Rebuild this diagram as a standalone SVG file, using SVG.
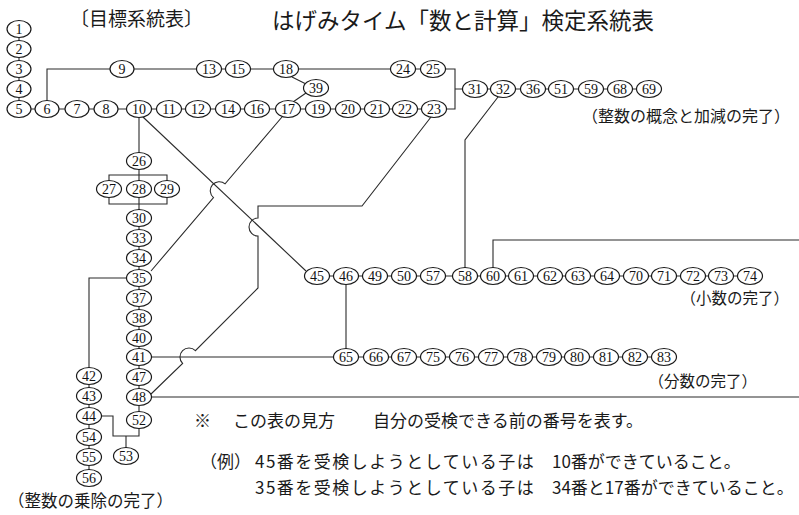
<svg xmlns="http://www.w3.org/2000/svg" width="799" height="515" viewBox="0 0 799 515">
<style>
.n ellipse{fill:#fff;stroke:#1a1a1a;stroke-width:1.2}
.n text{font-family:"Liberation Serif",serif;font-size:14px;text-anchor:middle;fill:#111}
.c{fill:none;stroke:#2a2a2a;stroke-width:1.1}
.t{font-family:"Noto Sans CJK JP",sans-serif;fill:#1a1a1a}
</style>
<rect width="799" height="515" fill="#fff"/>
<text class="t" x="70" y="26" font-size="19">〔目標系統表〕</text>
<text class="t" x="272" y="29" font-size="22.5">はげみタイム「数と計算」検定系統表</text>
<g id="connectors" class="c">
<path d="M19,29V109H434"/>
<path d="M434,109H455V69H47V109"/>
<path d="M455,89H649"/>
<path d="M292,77L306,84M306,93L293,102"/>
<path d="M139,109V420"/>
<path d="M109,189V175H167V189M109,189V204H167V189"/>
<path d="M89,416H113V436H139V420M126,436V456"/>
<path d="M139,278H89V478"/>
<path d="M139,357H346"/>
<path d="M139,397H799"/>
<path d="M143,117L306,271"/>
<path d="M282,117L225.1,183.8A9,9 0 0 0 213.5,197.6L151,271"/>
<path d="M431,117L362,206H258V218A9,9 0 0 0 258,236V288L195.4,350.6A9,9 0 0 0 182.6,363.4L150,395"/>
<path d="M346,276V357"/>
<path d="M317,276H750"/>
<path d="M498,97L465,140V276"/>
<path d="M493,276V240H799"/>
<path d="M346,357H664"/>
</g>
<g id="n1" class="n"><ellipse cx="19" cy="29" rx="12" ry="8.5"/><text x="19" y="34">1</text></g>
<g id="n2" class="n"><ellipse cx="19" cy="49" rx="12" ry="8.5"/><text x="19" y="54">2</text></g>
<g id="n3" class="n"><ellipse cx="19" cy="69" rx="12" ry="8.5"/><text x="19" y="74">3</text></g>
<g id="n4" class="n"><ellipse cx="19" cy="89" rx="12" ry="8.5"/><text x="19" y="94">4</text></g>
<g id="n5" class="n"><ellipse cx="19" cy="109" rx="12" ry="8.5"/><text x="19" y="114">5</text></g>
<g id="n6" class="n"><ellipse cx="47" cy="109" rx="12" ry="8.5"/><text x="47" y="114">6</text></g>
<g id="n7" class="n"><ellipse cx="77" cy="109" rx="12" ry="8.5"/><text x="77" y="114">7</text></g>
<g id="n8" class="n"><ellipse cx="106" cy="109" rx="12" ry="8.5"/><text x="106" y="114">8</text></g>
<g id="n10" class="n"><ellipse cx="139" cy="109" rx="12.5" ry="8.5"/><text x="139" y="114">10</text></g>
<g id="n11" class="n"><ellipse cx="169" cy="109" rx="12.5" ry="8.5"/><text x="169" y="114">11</text></g>
<g id="n12" class="n"><ellipse cx="198" cy="109" rx="12.5" ry="8.5"/><text x="198" y="114">12</text></g>
<g id="n14" class="n"><ellipse cx="228" cy="109" rx="12.5" ry="8.5"/><text x="228" y="114">14</text></g>
<g id="n16" class="n"><ellipse cx="257" cy="109" rx="12.5" ry="8.5"/><text x="257" y="114">16</text></g>
<g id="n17" class="n"><ellipse cx="288" cy="109" rx="12.5" ry="8.5"/><text x="288" y="114">17</text></g>
<g id="n19" class="n"><ellipse cx="318" cy="109" rx="12.5" ry="8.5"/><text x="318" y="114">19</text></g>
<g id="n20" class="n"><ellipse cx="348" cy="109" rx="12.5" ry="8.5"/><text x="348" y="114">20</text></g>
<g id="n21" class="n"><ellipse cx="377" cy="109" rx="12.5" ry="8.5"/><text x="377" y="114">21</text></g>
<g id="n22" class="n"><ellipse cx="405" cy="109" rx="12.5" ry="8.5"/><text x="405" y="114">22</text></g>
<g id="n23" class="n"><ellipse cx="434" cy="109" rx="12.5" ry="8.5"/><text x="434" y="114">23</text></g>
<g id="n9" class="n"><ellipse cx="122" cy="69" rx="12" ry="8.5"/><text x="122" y="74">9</text></g>
<g id="n13" class="n"><ellipse cx="209" cy="69" rx="12.5" ry="8.5"/><text x="209" y="74">13</text></g>
<g id="n15" class="n"><ellipse cx="238" cy="69" rx="12.5" ry="8.5"/><text x="238" y="74">15</text></g>
<g id="n18" class="n"><ellipse cx="286" cy="69" rx="12.5" ry="8.5"/><text x="286" y="74">18</text></g>
<g id="n24" class="n"><ellipse cx="403" cy="69" rx="12.5" ry="8.5"/><text x="403" y="74">24</text></g>
<g id="n25" class="n"><ellipse cx="433" cy="69" rx="12.5" ry="8.5"/><text x="433" y="74">25</text></g>
<g id="n39" class="n"><ellipse cx="316" cy="88" rx="12.5" ry="8.5"/><text x="316" y="93">39</text></g>
<g id="n31" class="n"><ellipse cx="475" cy="89" rx="12.5" ry="8.5"/><text x="475" y="94">31</text></g>
<g id="n32" class="n"><ellipse cx="503" cy="89" rx="12.5" ry="8.5"/><text x="503" y="94">32</text></g>
<g id="n36" class="n"><ellipse cx="533" cy="89" rx="12.5" ry="8.5"/><text x="533" y="94">36</text></g>
<g id="n51" class="n"><ellipse cx="561" cy="89" rx="12.5" ry="8.5"/><text x="561" y="94">51</text></g>
<g id="n59" class="n"><ellipse cx="591" cy="89" rx="12.5" ry="8.5"/><text x="591" y="94">59</text></g>
<g id="n68" class="n"><ellipse cx="620" cy="89" rx="12.5" ry="8.5"/><text x="620" y="94">68</text></g>
<g id="n69" class="n"><ellipse cx="649" cy="89" rx="12.5" ry="8.5"/><text x="649" y="94">69</text></g>
<g id="n26" class="n"><ellipse cx="139" cy="161" rx="12.5" ry="8.5"/><text x="139" y="166">26</text></g>
<g id="n27" class="n"><ellipse cx="109" cy="189" rx="12.5" ry="8.5"/><text x="109" y="194">27</text></g>
<g id="n28" class="n"><ellipse cx="139" cy="189" rx="12.5" ry="8.5"/><text x="139" y="194">28</text></g>
<g id="n29" class="n"><ellipse cx="167" cy="189" rx="12.5" ry="8.5"/><text x="167" y="194">29</text></g>
<g id="n30" class="n"><ellipse cx="139" cy="218" rx="12.5" ry="8.5"/><text x="139" y="223">30</text></g>
<g id="n33" class="n"><ellipse cx="139" cy="238" rx="12.5" ry="8.5"/><text x="139" y="243">33</text></g>
<g id="n34" class="n"><ellipse cx="139" cy="258" rx="12.5" ry="8.5"/><text x="139" y="263">34</text></g>
<g id="n35" class="n"><ellipse cx="139" cy="278" rx="12.5" ry="8.5"/><text x="139" y="283">35</text></g>
<g id="n37" class="n"><ellipse cx="139" cy="298" rx="12.5" ry="8.5"/><text x="139" y="303">37</text></g>
<g id="n38" class="n"><ellipse cx="139" cy="318" rx="12.5" ry="8.5"/><text x="139" y="323">38</text></g>
<g id="n40" class="n"><ellipse cx="139" cy="338" rx="12.5" ry="8.5"/><text x="139" y="343">40</text></g>
<g id="n41" class="n"><ellipse cx="139" cy="357" rx="12.5" ry="8.5"/><text x="139" y="362">41</text></g>
<g id="n47" class="n"><ellipse cx="139" cy="377" rx="12.5" ry="8.5"/><text x="139" y="382">47</text></g>
<g id="n48" class="n"><ellipse cx="139" cy="397" rx="12.5" ry="8.5"/><text x="139" y="402">48</text></g>
<g id="n52" class="n"><ellipse cx="139" cy="420" rx="12.5" ry="8.5"/><text x="139" y="425">52</text></g>
<g id="n53" class="n"><ellipse cx="126" cy="456" rx="12.5" ry="8.5"/><text x="126" y="461">53</text></g>
<g id="n42" class="n"><ellipse cx="89" cy="376" rx="12.5" ry="8.5"/><text x="89" y="381">42</text></g>
<g id="n43" class="n"><ellipse cx="89" cy="396" rx="12.5" ry="8.5"/><text x="89" y="401">43</text></g>
<g id="n44" class="n"><ellipse cx="89" cy="416" rx="12.5" ry="8.5"/><text x="89" y="421">44</text></g>
<g id="n54" class="n"><ellipse cx="89" cy="437" rx="12.5" ry="8.5"/><text x="89" y="442">54</text></g>
<g id="n55" class="n"><ellipse cx="89" cy="457" rx="12.5" ry="8.5"/><text x="89" y="462">55</text></g>
<g id="n56" class="n"><ellipse cx="89" cy="478" rx="12.5" ry="8.5"/><text x="89" y="483">56</text></g>
<g id="n45" class="n"><ellipse cx="317" cy="276" rx="12.5" ry="8.5"/><text x="317" y="281">45</text></g>
<g id="n46" class="n"><ellipse cx="346" cy="276" rx="12.5" ry="8.5"/><text x="346" y="281">46</text></g>
<g id="n49" class="n"><ellipse cx="375" cy="276" rx="12.5" ry="8.5"/><text x="375" y="281">49</text></g>
<g id="n50" class="n"><ellipse cx="404" cy="276" rx="12.5" ry="8.5"/><text x="404" y="281">50</text></g>
<g id="n57" class="n"><ellipse cx="433" cy="276" rx="12.5" ry="8.5"/><text x="433" y="281">57</text></g>
<g id="n58" class="n"><ellipse cx="465" cy="276" rx="12.5" ry="8.5"/><text x="465" y="281">58</text></g>
<g id="n60" class="n"><ellipse cx="493" cy="276" rx="12.5" ry="8.5"/><text x="493" y="281">60</text></g>
<g id="n61" class="n"><ellipse cx="521" cy="276" rx="12.5" ry="8.5"/><text x="521" y="281">61</text></g>
<g id="n62" class="n"><ellipse cx="550" cy="276" rx="12.5" ry="8.5"/><text x="550" y="281">62</text></g>
<g id="n63" class="n"><ellipse cx="578" cy="276" rx="12.5" ry="8.5"/><text x="578" y="281">63</text></g>
<g id="n64" class="n"><ellipse cx="607" cy="276" rx="12.5" ry="8.5"/><text x="607" y="281">64</text></g>
<g id="n70" class="n"><ellipse cx="636" cy="276" rx="12.5" ry="8.5"/><text x="636" y="281">70</text></g>
<g id="n71" class="n"><ellipse cx="664" cy="276" rx="12.5" ry="8.5"/><text x="664" y="281">71</text></g>
<g id="n72" class="n"><ellipse cx="693" cy="276" rx="12.5" ry="8.5"/><text x="693" y="281">72</text></g>
<g id="n73" class="n"><ellipse cx="721" cy="276" rx="12.5" ry="8.5"/><text x="721" y="281">73</text></g>
<g id="n74" class="n"><ellipse cx="750" cy="276" rx="12.5" ry="8.5"/><text x="750" y="281">74</text></g>
<g id="n65" class="n"><ellipse cx="346" cy="357" rx="12.5" ry="8.5"/><text x="346" y="362">65</text></g>
<g id="n66" class="n"><ellipse cx="376" cy="357" rx="12.5" ry="8.5"/><text x="376" y="362">66</text></g>
<g id="n67" class="n"><ellipse cx="404" cy="357" rx="12.5" ry="8.5"/><text x="404" y="362">67</text></g>
<g id="n75" class="n"><ellipse cx="433" cy="357" rx="12.5" ry="8.5"/><text x="433" y="362">75</text></g>
<g id="n76" class="n"><ellipse cx="462" cy="357" rx="12.5" ry="8.5"/><text x="462" y="362">76</text></g>
<g id="n77" class="n"><ellipse cx="491" cy="357" rx="12.5" ry="8.5"/><text x="491" y="362">77</text></g>
<g id="n78" class="n"><ellipse cx="520" cy="357" rx="12.5" ry="8.5"/><text x="520" y="362">78</text></g>
<g id="n79" class="n"><ellipse cx="549" cy="357" rx="12.5" ry="8.5"/><text x="549" y="362">79</text></g>
<g id="n80" class="n"><ellipse cx="577" cy="357" rx="12.5" ry="8.5"/><text x="577" y="362">80</text></g>
<g id="n81" class="n"><ellipse cx="606" cy="357" rx="12.5" ry="8.5"/><text x="606" y="362">81</text></g>
<g id="n82" class="n"><ellipse cx="635" cy="357" rx="12.5" ry="8.5"/><text x="635" y="362">82</text></g>
<g id="n83" class="n"><ellipse cx="664" cy="357" rx="12.5" ry="8.5"/><text x="664" y="362">83</text></g>
<text class="t" x="790" y="122" font-size="16" text-anchor="end">（整数の概念と加減の完了）</text>
<text class="t" x="789" y="304" font-size="15.5" text-anchor="end">（小数の完了）</text>
<text class="t" x="757" y="387" font-size="15.5" text-anchor="end">（分数の完了）</text>
<text class="t" x="8" y="507" font-size="16.5">（整数の乗除の完了）</text>
<g class="t" font-size="17">
<text x="194" y="427">※</text>
<text x="233" y="427">この表の見方</text>
<text x="373" y="427">自分の受検できる前の番号を表す。</text>
<text x="200" y="468">（例）</text>
<text x="255" y="468" letter-spacing="1.5">45番を受検しようとしている子は</text>
<text x="552" y="468">10番ができていること。</text>
<text x="255" y="494" letter-spacing="1.5">35番を受検しようとしている子は</text>
<text x="552" y="494">34番と17番ができていること。</text>
</g>
</svg>
